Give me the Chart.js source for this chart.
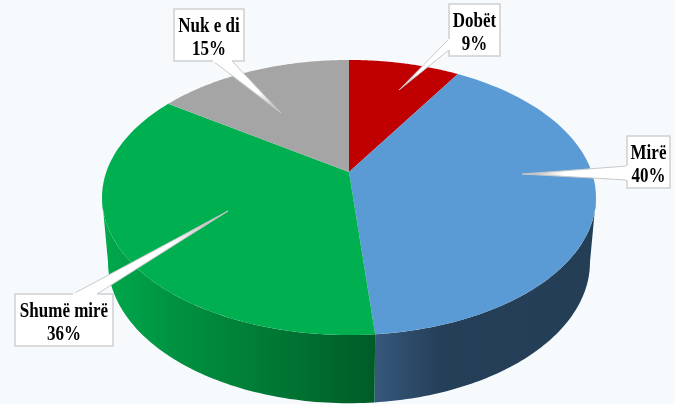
<!DOCTYPE html>
<html><head><meta charset="utf-8">
<script src="https://cdn.jsdelivr.net/npm/chart.js@4"></script>
<style>html,body{margin:0;padding:0;background:#f6fafd}#w{width:675px;height:404px;position:relative;overflow:hidden}canvas{display:block;filter:blur(0.45px)}</style>
</head><body><div id="w"><canvas id="c" width="675" height="404"></canvas></div>
<script>
const categories = ["Dobët", "Mirë", "Shumë mirë", "Nuk e di"];
const values = [8.7, 39.9, 36.0, 15.4];
const colors = ["#c00000", "#5b9bd5", "#00b050", "#a5a5a5"];
const wallStops = [
  [[0, "#800000"], [1, "#800000"]],
  [[0, "#36587c"], [0.3, "#243f57"], [1, "#233e55"]],
  [[0, "#00a94c"], [0.3, "#008f3f"], [0.6, "#007a35"], [1, "#005c27"]],
  [[0, "#6e6e6e"], [1, "#6e6e6e"]]
];
const callouts = [
  {box:[449,4,51,52], base:[[449,39],[449,50]], tip:[399,90]},
  {box:[627,136,43,52], base:[[627,166],[627,180]], tip:[522,174]},
  {box:[15,294,98,52], base:[[73,294],[97,294]], tip:[228,211]},
  {box:[174,9,70,52], base:[[213,61],[232,61]], tip:[281,113]}
];
const TOP = {a:242.7, b:132.8, y:172};
const BOT = {a:236.8, b:136.2, y:236};
const K = 0.1855, CX = 349;
function proj(g, angle){
  const th = angle + Math.PI/2, u = Math.sin(th), v = Math.cos(th), d = 1 + K*v;
  return [CX + g.a*u/d, g.y - g.b*v/d];
}
function drawTop(ctx){
  const o = this.options;
  ctx.save();
  ctx.beginPath();
  ctx.moveTo(CX, TOP.y);
  const n = 80;
  for(let i=0;i<=n;i++){
    const p = proj(TOP, this.startAngle + (this.endAngle-this.startAngle)*i/n);
    ctx.lineTo(p[0],p[1]);
  }
  ctx.closePath();
  ctx.fillStyle = o.backgroundColor;
  ctx.fill();
  ctx.restore();
}
const pie3d = {
  id:"pie3d",
  afterDatasetsUpdate(chart){
    chart.getDatasetMeta(0).data.forEach(el => { el.draw = drawTop; });
  },
  beforeDatasetsDraw(chart){
    const ctx = chart.ctx, els = chart.getDatasetMeta(0).data;
    const ths = Math.acos(-K);                 // silhouette of the rim
    const lo = ths - Math.PI/2, hi = 2*Math.PI - ths - Math.PI/2;
    [1,2].forEach(i=>{
      const el = els[i], n = 80;
      const a = Math.max(el.startAngle, lo), b = Math.min(el.endAngle, hi);
      if(b <= a) return;
      const pts = [];
      for(let j=0;j<=n;j++) pts.push(a+(b-a)*j/n);
      const g = ctx.createLinearGradient(i===2?102:375,0,i===2?375:596,0);
      wallStops[i].forEach(s=>g.addColorStop(s[0],s[1]));
      ctx.beginPath();
      pts.forEach((t,j)=>{const p=proj(TOP,t); j?ctx.lineTo(p[0],p[1]):ctx.moveTo(p[0],p[1]);});
      pts.slice().reverse().forEach(t=>{const p=proj(BOT,t); ctx.lineTo(p[0],p[1]);});
      ctx.closePath();
      ctx.fillStyle = g; ctx.fill();
    });
  },
  afterDatasetsDraw(chart){
    const ctx = chart.ctx;
    callouts.forEach((c,i)=>{
      const [x,y,w,h] = c.box;
      const mx=(c.base[0][0]+c.base[1][0])/2, my=(c.base[0][1]+c.base[1][1])/2;
      const g = ctx.createLinearGradient(mx,my,c.tip[0],c.tip[1]);
      g.addColorStop(0,"#ffffff"); g.addColorStop(0.6,"#ffffff"); g.addColorStop(1,"#a8a8a8");
      ctx.fillStyle="#ffffff"; ctx.strokeStyle="#cfcfcf"; ctx.lineWidth=1.5;
      ctx.fillRect(x,y,w,h); ctx.strokeRect(x,y,w,h);
      ctx.beginPath();
      ctx.moveTo(c.base[0][0],c.base[0][1]);
      ctx.lineTo(c.tip[0],c.tip[1]);
      ctx.lineTo(c.base[1][0],c.base[1][1]);
      ctx.fillStyle=g; ctx.fill();
      ctx.strokeStyle="#c8c8c8"; ctx.lineWidth=1; ctx.stroke();
      ctx.beginPath();
      ctx.moveTo(c.base[0][0],c.base[0][1]);
      ctx.lineTo(c.base[1][0],c.base[1][1]);
      ctx.strokeStyle="#ffffff"; ctx.lineWidth=2.5; ctx.stroke();
      ctx.fillStyle="#000"; ctx.font="bold 17px 'Liberation Serif'";
      ctx.textAlign="center"; ctx.textBaseline="alphabetic";
      [[categories[i],22.5],[Math.round(values[i])+"%",45.5]].forEach(([s,dy])=>{
        ctx.save();
        ctx.translate(x+w/2, y+dy);
        ctx.scale(1,1.2);
        ctx.fillText(s,0,0);
        ctx.restore();
      });
    });
  }
};
new Chart(document.getElementById("c"),{
  type:"pie",
  data:{labels:categories,datasets:[{data:values,backgroundColor:colors,borderWidth:0}]},
  options:{responsive:false,animation:false,
    plugins:{legend:{display:false},tooltip:{enabled:false}},
    layout:{padding:0}},
  plugins:[pie3d]
});
</script></body></html>
